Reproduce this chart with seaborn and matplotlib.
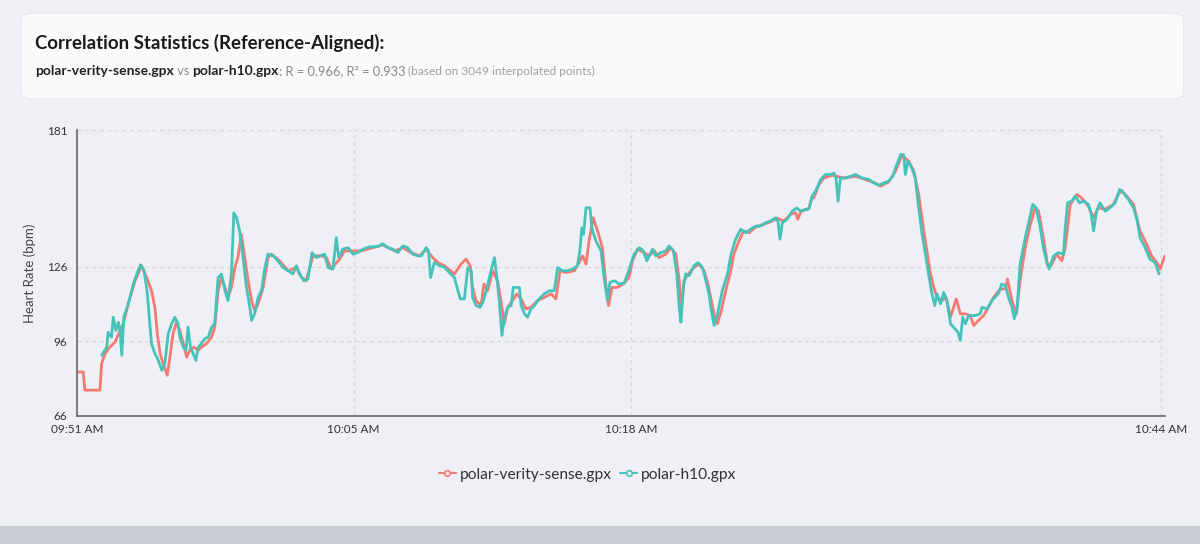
import numpy as np
import pandas as pd
import seaborn as sns
import matplotlib.pyplot as plt
from matplotlib.patches import FancyBboxPatch, Rectangle
from matplotlib.lines import Line2D

# seconds after 09:51:00, heart rate in bpm
vs_sec = [0, 18, 23, 67, 72, 82, 96, 111, 126, 135, 150, 170, 189, 204, 218, 228, 235, 243,
          252, 264, 272, 281, 291, 301, 311, 321, 330, 342, 355, 364, 379, 394, 403, 413, 423,
          433, 442, 452, 462, 471, 481, 491, 501, 511, 520, 530, 545, 559, 569, 593, 618, 642,
          657, 671, 691, 715, 730, 744, 769, 783, 803, 832, 861, 895, 930, 954, 978, 1003, 1022,
          1041, 1056, 1076, 1105, 1124, 1139, 1151, 1158, 1168, 1183, 1191, 1202, 1217, 1231,
          1241, 1251, 1261, 1275, 1287, 1300, 1314, 1329, 1348, 1368, 1388, 1402, 1414, 1431,
          1456, 1470, 1480, 1490, 1499, 1511, 1524, 1538, 1548, 1556, 1566, 1582, 1602, 1616,
          1626, 1641, 1660, 1675, 1690, 1704, 1724, 1738, 1753, 1763, 1769, 1777, 1789, 1806,
          1821, 1836, 1847, 1857, 1867, 1875, 1886, 1899, 1914, 1923, 1938, 1951, 1967, 1987,
          2011, 2035, 2050, 2069, 2089, 2104, 2110, 2120, 2138, 2143, 2152, 2157, 2172, 2186,
          2211, 2225, 2245, 2279, 2308, 2337, 2352, 2376, 2396, 2415, 2435, 2450, 2464, 2479,
          2488, 2498, 2508, 2518, 2532, 2544, 2557, 2574, 2586, 2601, 2615, 2625, 2639, 2654,
          2674, 2683, 2703, 2718, 2724, 2737, 2750, 2761, 2776, 2791, 2805, 2815, 2829, 2841,
          2851, 2868, 2883, 2893, 2908, 2927, 2941, 2961, 2976, 2990, 3010, 3034, 3049, 3058,
          3073, 3093, 3112, 3127, 3146, 3161, 3171, 3185]
vs_bpm = [83.7, 83.7, 76.4, 76.4, 87.1, 91.1, 93.7, 95.7, 100.4, 103.1, 111.1, 120.4, 126.4,
          121.7, 116.4, 109.7, 99.1, 91.1, 87.1, 82.4, 89.7, 99.1, 103.7, 100.4, 95.1, 89.7,
          92.4, 93.7, 92.4, 93.7, 95.1, 97.7, 101.7, 116.4, 121.7, 117.7, 113.7, 117.7, 125.7,
          129.7, 139.1, 129.7, 120.4, 112.4, 108.4, 111.1, 117.7, 129.7, 131.1, 128.4, 124.4,
          125.7, 121.7, 120.4, 130.4, 130.4, 129.7, 125.1, 129.1, 132.4, 132.4, 132.4, 133.5,
          134.8, 132.4, 133.7, 131.7, 130.4, 133.1, 129.7, 127.7, 126.4, 123.1, 127.1, 129.1,
          126.4, 117.7, 112.4, 110.4, 119.1, 116.4, 124.4, 120.4, 112.4, 103.1, 109.7, 112.4,
          115.1, 113.1, 109.1, 109.7, 112.4, 113.7, 115.1, 113.1, 124.4, 123.7, 124.4, 127.7,
          130.4, 127.1, 136.4, 145.7, 140.4, 133.7, 119.1, 110.4, 117.7, 117.7, 119.4, 121.7,
          128.4, 133.1, 131.7, 130.4, 132.4, 129.7, 131.1, 133.7, 131.1, 120.4, 107.7, 120.4,
          123.1, 125.7, 127.1, 124.4, 119.1, 112.4, 105.7, 103.1, 108.4, 116.4, 124.4, 131.1,
          136.4, 140.4, 139.7, 142.0, 143.1, 144.4, 145.5, 144.4, 147.1, 147.7, 145.1, 148.4,
          149.1, 149.7, 154.0, 153.7, 159.1, 161.7, 162.8, 162.4, 161.7, 162.4, 161.1, 159.7,
          158.4, 160.1, 164.4, 170.8, 168.4, 164.4, 155.1, 140.4, 132.4, 123.7, 117.7, 113.7,
          112.4, 113.7, 105.7, 113.1, 107.1, 107.1, 106.4, 102.4, 104.4, 106.4, 111.1, 113.7,
          117.1, 117.1, 121.1, 112.4, 107.1, 120.4, 133.7, 143.1, 149.7, 148.4, 137.7, 127.1,
          126.4, 131.1, 128.4, 133.7, 151.1, 155.1, 153.7, 150.4, 145.7, 149.7, 149.1, 151.1,
          155.1, 156.7, 154.4, 151.1, 140.4, 136.4, 130.4, 127.7, 125.1, 130.4]

h10_sec = [72, 87, 91, 101, 106, 114, 121, 126, 131, 137, 150, 165, 175, 186, 196, 205, 213,
           218, 228, 238, 248, 257, 267, 277, 286, 296, 301, 311, 319, 325, 332, 340, 348, 355,
           364, 374, 384, 394, 403, 413, 423, 433, 442, 452, 459, 467, 476, 486, 496, 506, 511,
           520, 530, 540, 550, 559, 574, 588, 603, 618, 632, 642, 652, 664, 676, 688, 701, 713,
           725, 735, 749, 759, 766, 778, 793, 808, 822, 837, 856, 881, 895, 910, 925, 939, 954,
           968, 983, 998, 1008, 1022, 1029, 1035, 1046, 1061, 1076, 1090, 1105, 1115, 1122, 1134,
           1144, 1154, 1158, 1168, 1180, 1188, 1198, 1207, 1222, 1229, 1236, 1244, 1251, 1261,
           1271, 1277, 1295, 1300, 1310, 1319, 1329, 1339, 1353, 1368, 1383, 1397, 1407, 1421,
           1436, 1451, 1465, 1472, 1478, 1483, 1490, 1502, 1507, 1519, 1534, 1543, 1553, 1560,
           1573, 1587, 1602, 1616, 1631, 1646, 1658, 1668, 1685, 1694, 1709, 1724, 1733, 1746,
           1756, 1763, 1768, 1775, 1782, 1792, 1806, 1818, 1831, 1841, 1850, 1857, 1865, 1875,
           1889, 1904, 1915, 1928, 1943, 1958, 1972, 1987, 2001, 2016, 2031, 2045, 2052, 2058,
           2065, 2079, 2094, 2107, 2118, 2133, 2143, 2152, 2162, 2177, 2191, 2206, 2216, 2222,
           2228, 2235, 2250, 2264, 2279, 2298, 2318, 2333, 2347, 2362, 2376, 2388, 2398, 2411,
           2420, 2425, 2432, 2444, 2454, 2464, 2474, 2484, 2493, 2501, 2511, 2518, 2528, 2537,
           2547, 2557, 2566, 2579, 2586, 2593, 2601, 2610, 2630, 2644, 2649, 2664, 2678, 2698,
           2707, 2718, 2727, 2737, 2744, 2752, 2761, 2776, 2789, 2798, 2808, 2820, 2829, 2839,
           2846, 2859, 2873, 2888, 2893, 2900, 2912, 2922, 2935, 2946, 2961, 2969, 2976, 2985,
           2995, 3010, 3024, 3039, 3052, 3063, 3078, 3093, 3104, 3112, 3127, 3141, 3156, 3168]
h10_bpm = [90.4, 93.7, 99.7, 97.7, 105.7, 100.4, 103.7, 100.4, 90.4, 105.7, 111.1, 119.1,
           123.1, 126.8, 124.4, 116.4, 103.1, 95.1, 91.1, 88.4, 84.4, 87.1, 99.1, 103.1, 105.7,
           103.1, 97.7, 93.7, 92.4, 101.7, 93.7, 91.1, 88.4, 93.7, 95.1, 97.1, 97.7, 101.7,
           103.1, 121.7, 123.1, 116.4, 112.4, 123.1, 147.7, 145.7, 140.4, 129.7, 117.7, 109.7,
           104.4, 107.1, 113.7, 116.4, 125.7, 131.1, 130.4, 128.4, 125.7, 124.4, 123.1, 126.4,
           123.1, 120.4, 121.1, 131.7, 129.7, 130.4, 131.1, 125.7, 125.1, 137.7, 129.7, 133.1,
           133.7, 131.1, 131.7, 133.1, 134.0, 134.1, 135.3, 133.7, 133.1, 131.7, 134.4, 133.7,
           131.1, 130.4, 130.4, 133.7, 132.4, 121.7, 127.7, 126.5, 125.7, 123.7, 121.7, 116.4,
           113.1, 113.1, 125.7, 124.4, 113.7, 110.4, 109.7, 111.7, 116.4, 121.7, 129.7, 121.7,
           112.4, 98.4, 105.7, 109.7, 110.4, 117.7, 117.7, 110.4, 107.1, 105.7, 109.1, 110.4,
           113.1, 115.1, 116.4, 116.4, 125.7, 124.4, 124.4, 125.1, 126.4, 132.4, 141.7, 139.1,
           149.7, 149.7, 141.7, 136.4, 132.4, 121.7, 112.4, 119.7, 120.4, 119.1, 119.5, 124.7,
           131.1, 133.7, 132.4, 128.4, 133.1, 130.4, 131.7, 132.4, 134.4, 132.4, 123.1, 109.7,
           103.7, 117.7, 123.1, 122.4, 126.4, 127.7, 125.7, 120.4, 115.1, 108.4, 102.4, 107.1,
           116.4, 123.1, 131.1, 137.1, 141.1, 139.7, 141.1, 142.4, 142.4, 143.7, 144.4, 145.7,
           144.4, 137.1, 143.7, 145.1, 148.4, 149.7, 148.4, 149.1, 149.4, 154.4, 156.4, 161.1,
           163.1, 163.1, 163.7, 161.7, 152.4, 161.7, 161.7, 162.4, 163.1, 161.7, 161.1, 159.7,
           158.8, 159.7, 160.4, 162.4, 166.4, 171.1, 171.1, 163.1, 168.4, 165.7, 161.7, 149.7,
           139.1, 131.1, 123.1, 116.4, 110.4, 115.1, 111.1, 115.7, 112.4, 103.1, 101.7, 99.7,
           96.4, 105.7, 103.1, 106.4, 106.4, 107.1, 109.7, 109.1, 112.4, 115.4, 119.1, 118.4,
           113.7, 109.7, 105.1, 109.1, 127.1, 137.7, 145.7, 151.1, 149.7, 141.7, 133.7, 127.7,
           125.1, 130.4, 131.7, 131.1, 141.7, 151.7, 152.4, 154.4, 151.7, 152.4, 151.1, 147.1,
           140.4, 148.4, 151.7, 148.4, 149.7, 151.7, 157.1, 155.7, 153.1, 149.7, 144.4, 137.7,
           133.7, 129.1, 127.7, 123.1]

devices = ["polar-verity-sense.gpx", "polar-h10.gpx"]
colors = ["#f47a72", "#45c3ba"]
tick_sec = [0, 810, 1622, 3174]
tick_labels = ["09:51 AM", "10:05 AM", "10:18 AM", "10:44 AM"]
y_ticks = [66, 96, 126, 181]

df = pd.concat([
    pd.DataFrame({"sec": vs_sec, "bpm": vs_bpm, "device": devices[0]}),
    pd.DataFrame({"sec": h10_sec, "bpm": h10_bpm, "device": devices[1]}),
])

sns.set_theme(style="white")
plt.rcParams["font.family"] = ["Lato", "DejaVu Sans"]

bg = "#eef0f5"
fig = plt.figure(figsize=(12, 5.44), dpi=100, facecolor=bg)
ax = fig.add_axes([0.0642, 0.2353, 0.9066, 0.5257])
ax.set_facecolor(bg)

sns.lineplot(data=df, x="sec", y="bpm", hue="device", hue_order=devices,
             palette=colors, linewidth=2, estimator=None, sort=False,
             legend=False, ax=ax)

ax.set_xlim(0, 3185)
ax.set_ylim(66, 181)
ax.set_xticks(tick_sec)
ax.set_xticklabels(tick_labels)
ax.set_yticks(y_ticks)
ax.tick_params(axis="both", length=5, width=1, color="#666666", labelsize=8.5,
               labelcolor="#333333", direction="out", pad=2)
ax.tick_params(axis="x", pad=1)
for s in ["top", "right"]:
    ax.spines[s].set_visible(False)
for s in ["left", "bottom"]:
    ax.spines[s].set_color("#666666")
    ax.spines[s].set_linewidth(1.2)

for yv in y_ticks[1:]:
    ax.axhline(yv, color="#d6d8dc", lw=0.9, ls=(0, (3, 3)), zorder=0)
for xv in tick_sec[1:]:
    ax.axvline(xv, color="#d6d8dc", lw=0.9, ls=(0, (3, 3)), zorder=0)

ax.set_xlabel("")
ax.set_ylabel("Heart Rate (bpm)", fontsize=9.5, color="#444444", labelpad=8)

# header card
card = FancyBboxPatch((0.0175, 0.818), 0.969, 0.158, transform=fig.transFigure,
                      boxstyle="round,pad=0,rounding_size=0.012", facecolor="#f9fafc",
                      edgecolor="#e6e8ec", linewidth=0.8, zorder=0)
fig.patches.append(card)
fig.text(0.029, 0.921, "Correlation Statistics (Reference-Aligned):", fontsize=13.4,
         fontweight="bold", color="#1a1a1a", va="center", zorder=3)

# subtitle made of pieces with different styles, placed one after the other
pieces = [("polar-verity-sense.gpx", "bold", "#222222", 10),
          (" vs ", "normal", "#8a8a8a", 9.3),
          ("polar-h10.gpx", "bold", "#222222", 10),
          (": R = 0.966, R² = 0.933", "normal", "#8a8a8a", 9.3),
          (" (based on 3049 interpolated points)", "normal", "#a0a0a0", 8.6)]
fig.canvas.draw()
renderer = fig.canvas.get_renderer()
x_pos = 0.029
for txt, w, c, fs in pieces:
    t = fig.text(x_pos, 0.862, txt, fontsize=fs, fontweight=w, color=c,
                 va="baseline", ha="left", zorder=3)
    bb = t.get_window_extent(renderer)
    x_pos = bb.x1 / fig.bbox.width

# legend
handles = [Line2D([0], [0], color=c, lw=1.5, marker="o", markersize=4,
                  markerfacecolor=bg, markeredgecolor=c, markeredgewidth=1.2)
           for c in colors]
fig.legend(handles, devices, loc="center", bbox_to_anchor=(0.4896, 0.127), ncol=2,
           frameon=False, fontsize=11.2, handlelength=1.1, handletextpad=0.25,
           columnspacing=0.55, labelcolor="#333333")

# bottom edge of the page
fig.patches.append(Rectangle((0, 0), 1, 0.033, transform=fig.transFigure,
                             facecolor="#c8ccd2", edgecolor="none", zorder=0))

fig.savefig("out.png", dpi=100, facecolor=bg)
